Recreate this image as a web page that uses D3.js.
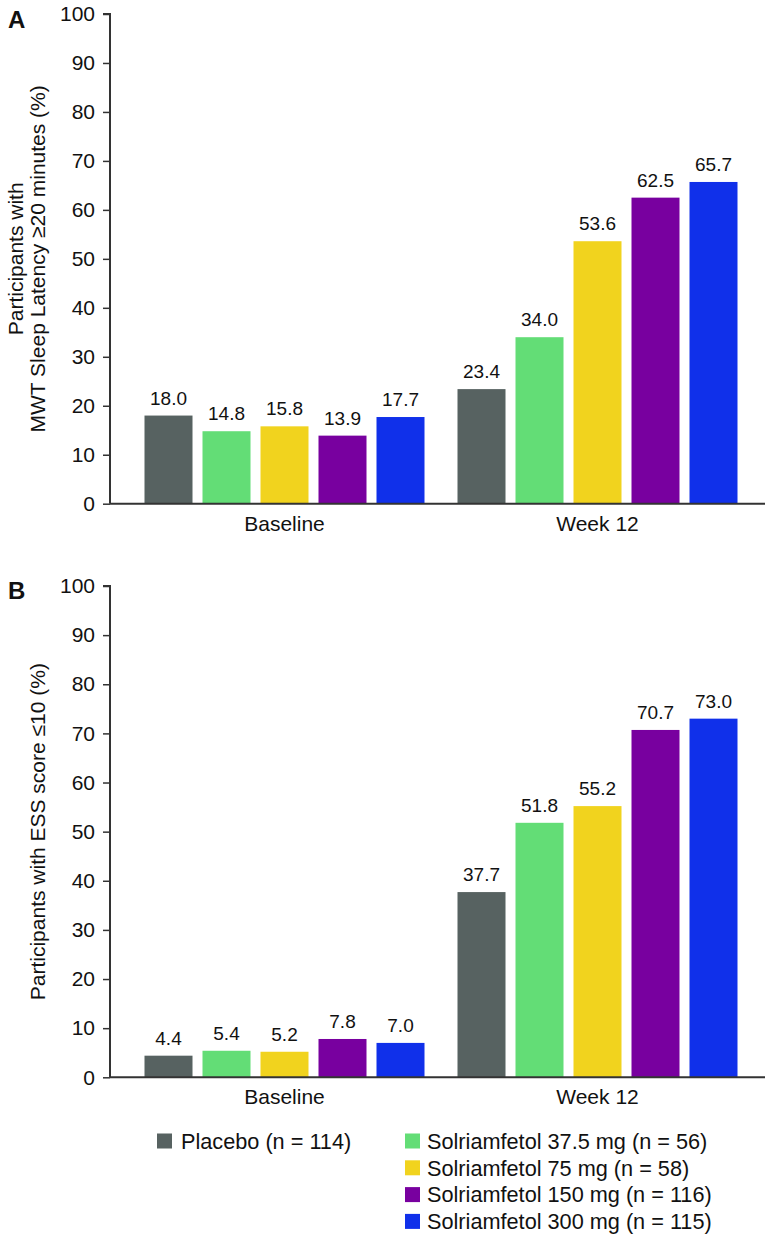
<!DOCTYPE html>
<html>
<head>
<meta charset="utf-8">
<script src="https://cdn.jsdelivr.net/npm/d3@7"></script>
<style>
  html, body { margin: 0; padding: 0; background: #fff; }
  svg { display: block; font-family: "Liberation Sans", Arial, Helvetica, sans-serif; }
</style>
</head>
<body>
<svg id="chart" width="767" height="1234"></svg>
<script>
const groups = ["Baseline", "Week 12"];
const series = [
  "Placebo (n = 114)",
  "Solriamfetol 37.5 mg (n = 56)",
  "Solriamfetol 75 mg (n = 58)",
  "Solriamfetol 150 mg (n = 116)",
  "Solriamfetol 300 mg (n = 115)"
];
const colors = ["#576261", "#63dd76", "#f1d31e", "#78009f", "#1030ea"];
const mwtBaseline = [18.0, 14.8, 15.8, 13.9, 17.7];
const mwtWeek12   = [23.4, 34.0, 53.6, 62.5, 65.7];
const essBaseline = [4.4, 5.4, 5.2, 7.8, 7.0];
const essWeek12   = [37.7, 51.8, 55.2, 70.7, 73.0];
const yTicks = [0, 10, 20, 30, 40, 50, 60, 70, 80, 90, 100];

const svg = d3.select("#chart");
const axisColor = "#333";

const x0 = d3.scaleBand().domain(groups).range([128, 754]).paddingInner(0).paddingOuter(0);
const x1 = d3.scaleBand().domain(series).range([-145, 145]).paddingInner(10/58).paddingOuter(5/58);

function panel(opts) {
  const y = d3.scaleLinear().domain([0, 100]).range([opts.y0, opts.y1]);
  const g = svg.append("g");
  const data = [];
  groups.forEach((gr, gi) => {
    const vals = gi === 0 ? opts.base : opts.wk;
    series.forEach((s, si) => data.push({ group: gr, series: s, value: vals[si], color: colors[si] }));
  });

  g.selectAll("rect.bar").data(data).enter().append("rect")
    .attr("class", "bar")
    .attr("x", d => x0(d.group) + x0.bandwidth() / 2 + x1(d.series))
    .attr("width", x1.bandwidth())
    .attr("y", d => y(d.value))
    .attr("height", d => y(0) - y(d.value))
    .attr("fill", d => d.color);

  g.selectAll("text.val").data(data).enter().append("text")
    .attr("class", "val")
    .attr("x", d => x0(d.group) + x0.bandwidth() / 2 + x1(d.series) + x1.bandwidth() / 2)
    .attr("y", d => y(d.value) - 11)
    .attr("text-anchor", "middle")
    .attr("font-size", 19)
    .attr("fill", "#111")
    .text(d => d.value.toFixed(1));

  // y axis
  const yAxis = d3.axisLeft(y).tickValues(yTicks).tickSize(7).tickPadding(8).tickFormat(d3.format("d"));
  const ya = g.append("g").attr("transform", "translate(110,0)").call(yAxis);
  ya.select(".domain").attr("stroke", axisColor).attr("stroke-width", 2).attr("d", `M-7,${y(100)}H0V${y(0)}`);
  ya.selectAll(".tick line").attr("stroke", axisColor).attr("stroke-width", 1.5);
  ya.selectAll(".tick text").attr("font-size", 21).attr("fill", "#111").style("font-family", "Liberation Sans, Arial, sans-serif");

  // x axis baseline
  const xAxis = d3.axisBottom(x0).tickSize(0).tickPadding(12);
  const xa = g.append("g").attr("transform", `translate(0,${y(0)})`).call(xAxis);
  xa.select(".domain").attr("stroke", axisColor).attr("stroke-width", 2).attr("d", "M110,0H765");
  xa.selectAll(".tick text").attr("font-size", 21).attr("fill", "#111").style("font-family", "Liberation Sans, Arial, sans-serif");

  // panel label
  g.append("text").attr("x", 8).attr("y", opts.labelY).attr("font-size", 24).attr("font-weight", "bold")
    .attr("fill", "#111").text(opts.label);

  // y title
  const cy = (y(0) + y(100)) / 2;
  const t = g.append("text").attr("transform", `translate(0,${cy}) rotate(-90)`)
    .attr("text-anchor", "middle").attr("font-size", 21).attr("fill", "#111");
  opts.title.forEach((line, i) => {
    t.append("tspan").attr("x", 0).attr("y", opts.titleX[i]).text(line);
  });
}

panel({ y0: 503.7, y1: 14, base: mwtBaseline, wk: mwtWeek12, label: "A", labelY: 28,
        title: ["Participants with", "MWT Sleep Latency \u226520 minutes (%)"], titleX: [23, 45] });
panel({ y0: 1077.3, y1: 586, base: essBaseline, wk: essWeek12, label: "B", labelY: 599,
        title: ["Participants with ESS score \u226410 (%)"], titleX: [45] });

// legend
const legendItems = series.map((s, i) => ({ name: s, color: colors[i],
  col: i === 0 ? 0 : 1, row: i === 0 ? 0 : i - 1 }));
const colX = [157, 405];
const textOff = [24, 22];
const lg = svg.append("g");
const item = lg.selectAll("g").data(legendItems).enter().append("g")
  .attr("transform", d => `translate(${colX[d.col]},${1141 + d.row * 26.8})`);
item.append("rect").attr("x", 0).attr("y", -7.5).attr("width", 15).attr("height", 15).attr("fill", d => d.color);
item.append("text").attr("x", d => textOff[d.col]).attr("y", 0).attr("dy", "0.36em")
  .attr("font-size", 21.7).attr("fill", "#111").text(d => d.name);
</script>
</body>
</html>
